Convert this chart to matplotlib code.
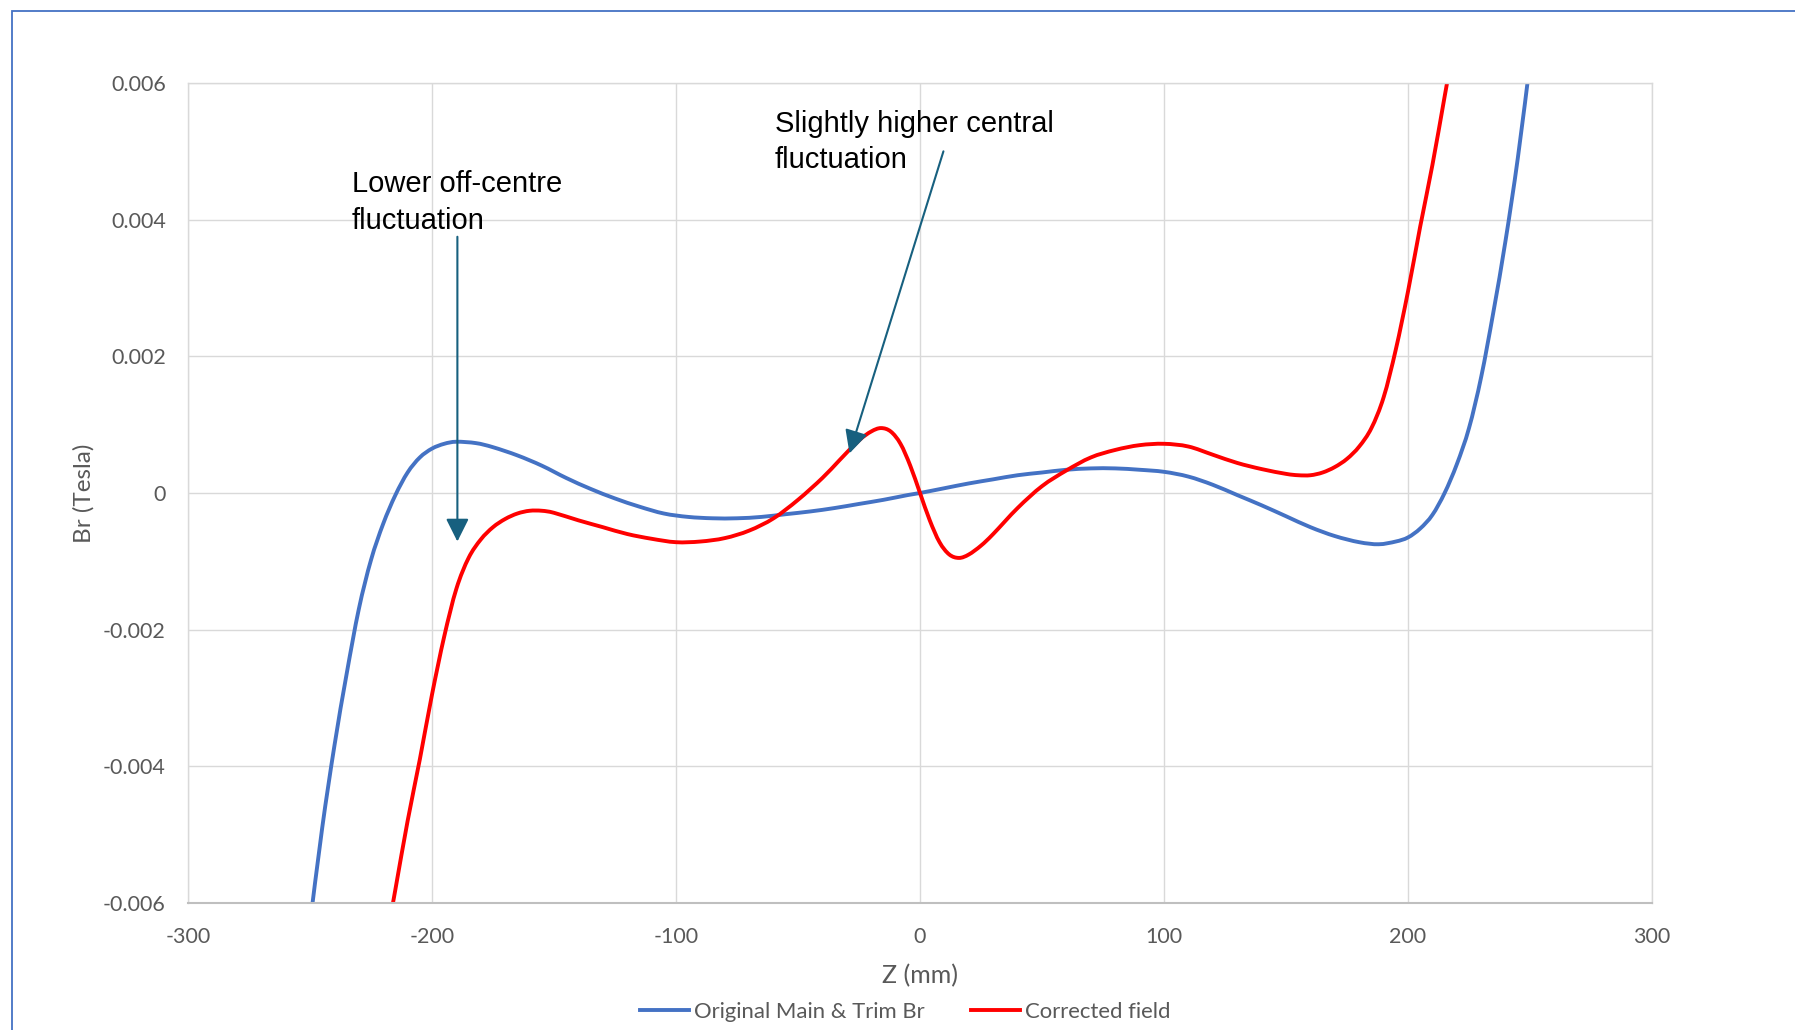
import matplotlib
matplotlib.use('Agg')
import matplotlib.pyplot as plt
from matplotlib.patches import Rectangle, PathPatch
from matplotlib.path import Path
from matplotlib.lines import Line2D

plt.rcParams['font.family'] = ['Lato', 'DejaVu Sans']
plt.rcParams['axes.unicode_minus'] = False

# Original Main & Trim Br
z_orig = [-250, -245, -240, -235, -230, -225, -220, -215, -210, -205, -200, -195, -190,
          -182, -175, -165, -155, -145, -135, -125, -115, -105, -95, -85, -75, -65, -55,
          -45, -35, -25, -15, -5, 0, 10, 20, 30, 40, 50, 60, 70, 80, 90, 100, 110, 120,
          130, 140, 150, 160, 170, 180, 188, 195, 200, 205, 210, 215, 220, 225, 230,
          235, 240, 245, 250]
br_orig = [-0.0063, -0.0049, -0.0037, -0.00265, -0.0017, -0.00098, -0.00045, -0.00003,
           0.0003, 0.00052, 0.00065, 0.00072, 0.00075, 0.00073, 0.00067, 0.00055,
           0.00040, 0.00022, 0.00006, -0.00008, -0.0002, -0.0003, -0.00035, -0.00037,
           -0.00037, -0.00035, -0.00031, -0.00027, -0.00022, -0.00016, -0.0001,
           -0.00003, 0.0, 0.00007, 0.00014, 0.0002, 0.00026, 0.0003, 0.00034, 0.00036,
           0.00036, 0.00034, 0.00031, 0.00024, 0.00012, -0.00003, -0.00018, -0.00034,
           -0.0005, -0.00063, -0.00072, -0.00075, -0.00071, -0.00065, -0.00052,
           -0.00032, 0.0, 0.00042, 0.00095, 0.0017, 0.00265, 0.0037, 0.0049, 0.0063]

# Corrected field
z_corr = [-220, -215, -210, -205, -200, -195, -190, -185, -180, -175, -170, -165, -160,
          -155, -150, -140, -130, -120, -110, -100, -90, -80, -70, -60, -50, -40, -33,
          -25, -20, -16, -12, -8, -4, 0, 4, 8, 12, 16, 20, 25, 30, 40, 50, 60, 70, 80,
          90, 100, 110, 120, 130, 140, 150, 155, 160, 165, 170, 175, 180, 185, 190, 195,
          200, 205, 210, 215, 220]
br_corr = [-0.0068, -0.0058, -0.0048, -0.0039, -0.00295, -0.0021, -0.0014, -0.00095,
           -0.00068, -0.0005, -0.00038, -0.0003, -0.00026, -0.00026, -0.00029, -0.0004,
           -0.0005, -0.0006, -0.00067, -0.00072, -0.00071, -0.00066, -0.00055, -0.00037,
           -0.0001, 0.00022, 0.00048, 0.00077, 0.0009, 0.00095, 0.0009, 0.00072, 0.0004,
           0.0, -0.0004, -0.00072, -0.0009, -0.00095, -0.0009, -0.00077, -0.0006,
           -0.00022, 0.0001, 0.00033, 0.00052, 0.00063, 0.0007, 0.00072, 0.00068,
           0.00056, 0.00044, 0.00035, 0.00028, 0.00026, 0.00026, 0.0003, 0.00038,
           0.0005, 0.00068, 0.00095, 0.0014, 0.0021, 0.00295, 0.0039, 0.0048, 0.0058,
           0.0068]

x_ticks = [-300, -200, -100, 0, 100, 200, 300]
y_ticks = [-0.006, -0.004, -0.002, 0, 0.002, 0.004, 0.006]
y_tick_labels = ['-0.006', '-0.004', '-0.002', '0', '0.002', '0.004', '0.006']


def smooth_path(xs, ys):
    # Excel-style smoothed line: cubic Bezier segments through the data points
    pts = list(zip(xs, ys))
    verts = [pts[0]]
    codes = [Path.MOVETO]
    n = len(pts)
    for i in range(n - 1):
        p0 = pts[i - 1] if i > 0 else pts[i]
        p1 = pts[i]
        p2 = pts[i + 1]
        p3 = pts[i + 2] if i + 2 < n else pts[i + 1]
        c1 = (p1[0] + (p2[0] - p0[0]) / 6, p1[1] + (p2[1] - p0[1]) / 6)
        c2 = (p2[0] - (p3[0] - p1[0]) / 6, p2[1] - (p3[1] - p1[1]) / 6)
        verts += [c1, c2, p2]
        codes += [Path.CURVE4] * 3
    return Path(verts, codes)


fig = plt.figure(figsize=(17.95, 10.30), dpi=100)
ax = fig.add_axes([0.10474, 0.12330, 0.81560, 0.79612])

ax.add_patch(PathPatch(smooth_path(z_orig, br_orig), fill=False,
                       edgecolor='#4472C4', lw=2.8, capstyle='round'))
ax.add_patch(PathPatch(smooth_path(z_corr, br_corr), fill=False,
                       edgecolor='#FF0000', lw=2.8, capstyle='round'))

ax.set_xlim(-300, 300)
ax.set_ylim(-0.006, 0.006)
ax.set_xticks(x_ticks)
ax.set_yticks(y_ticks)
ax.set_yticklabels(y_tick_labels)
ax.grid(True, color='#D9D9D9', lw=1.0)
ax.set_axisbelow(True)
ax.tick_params(length=0, labelsize=15.5, labelcolor='#595959')
ax.tick_params(axis='y', pad=16)
ax.tick_params(axis='x', pad=17.3)
for s in ['left', 'right', 'top']:
    ax.spines[s].set_color('#D9D9D9')
    ax.spines[s].set_linewidth(1.0)
ax.spines['bottom'].set_color('#BFBFBF')
ax.spines['bottom'].set_linewidth(1.5)

ax.set_xlabel('Z (mm)', fontsize=18, color='#595959')
ax.set_ylabel('Br (Tesla)', fontsize=17.5, color='#595959')
ax.xaxis.set_label_coords(0.5, -0.074)
ax.yaxis.set_label_coords(-0.064, 0.5)

# annotations
arrow_col = '#17607F'
ax.annotate('', xy=(-189.6, -0.00071), xytext=(-189.6, 0.00375),
            arrowprops=dict(arrowstyle='-|>,head_length=0.7,head_width=0.35',
                            color=arrow_col, lw=1.5, mutation_scale=20,
                            shrinkA=0, shrinkB=0))
ax.annotate('', xy=(-28.9, 0.00058), xytext=(9.6, 0.00500),
            arrowprops=dict(arrowstyle='-|>,head_length=0.7,head_width=0.35',
                            color=arrow_col, lw=1.5, mutation_scale=20,
                            shrinkA=0, shrinkB=0))
ax.text(-232.9, 0.00472, 'Lower off-centre\nfluctuation', fontsize=21,
        family=['Liberation Sans'], va='top', ha='left', linespacing=1.37)
ax.text(-59.4, 0.00560, 'Slightly higher central\nfluctuation', fontsize=21,
        family=['Liberation Sans'], va='top', ha='left', linespacing=1.37)

handles = [Line2D([], [], color='#4472C4', lw=2.8),
           Line2D([], [], color='#FF0000', lw=2.8)]
fig.legend(handles, ['Original Main & Trim Br', 'Corrected field'],
           loc='center', bbox_to_anchor=(0.5045, 0.0175), ncol=2, frameon=False,
           fontsize=15.9, labelcolor='#595959', handlelength=2.2, handletextpad=0.25,
           columnspacing=2.1)

# chart border
fig.add_artist(Rectangle((12 / 1795, -0.05), 1.2, 1.05 - 10.5 / 1030,
                         transform=fig.transFigure, fill=False,
                         edgecolor='#4472C4', lw=1.3, clip_on=False))

fig.savefig('out.png', dpi=100)
